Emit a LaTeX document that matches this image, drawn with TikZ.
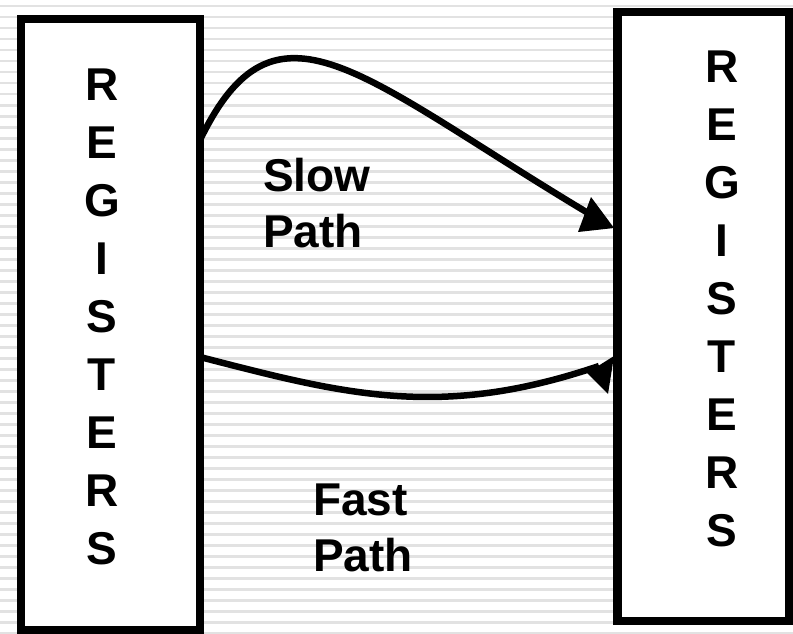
\documentclass[tikz,border=0pt]{standalone}
\usepackage{fontspec}
\setmainfont{Liberation Sans}
\definecolor{stripe}{RGB}{226,226,226}
\begin{document}
\begin{tikzpicture}[x=1pt,y=-1pt,
  box/.style={draw=black,line width=8.5pt,fill=white,rectangle,inner sep=0pt},
  letters/.style={font=\fontsize{46pt}{58pt}\selectfont\bfseries,align=center,inner sep=0pt},
  lab/.style={font=\fontsize{46pt}{56pt}\selectfont\bfseries,align=left,inner sep=0pt,anchor=north west},
  conn/.style={line width=6.5pt},
  head/.style={fill=black}]
\useasboundingbox (0,0) rectangle (793,634);
\fill[white] (0,0) rectangle (793,634);
\foreach \k in {0,...,57} \fill[stripe] (0,{5+11*\k}) rectangle (793,{7.5+11*\k});
% boxes
\node[box,minimum width=179pt,minimum height=611pt] (lbox) at (110.5,324.5) {};
\node[box,minimum width=171.5pt,minimum height=609pt] (rbox) at (703.25,316.5) {};
% vertical texts
\node[letters] (lcol) at (102,317) {R\\E\\G\\I\\S\\T\\E\\R\\S};
\node[letters] (rcol) at (722,299) {R\\E\\G\\I\\S\\T\\E\\R\\S};
% labels
\node[lab] (slow) at (263,158) {Slow\\Path};
\node[lab] (fast) at (313,484) {Fast\\Path};
% connectors
\coordinate (s0) at (200,140);
\coordinate (s1) at (588,213);
\coordinate (f0) at (200,357);
\coordinate (f1) at (599,366);
\draw[conn] (s0) .. controls (275.6,-16) and (358,75) .. (s1);
\draw[conn] (f0) .. controls (345.5,394.5) and (440,420) .. (f1);
% arrowheads
\fill[head] (614,228) -- (591,197) -- (578,232) -- cycle;
\fill[head] (614,356) -- (587,373) -- (608,394) -- cycle;
\end{tikzpicture}
\end{document}
